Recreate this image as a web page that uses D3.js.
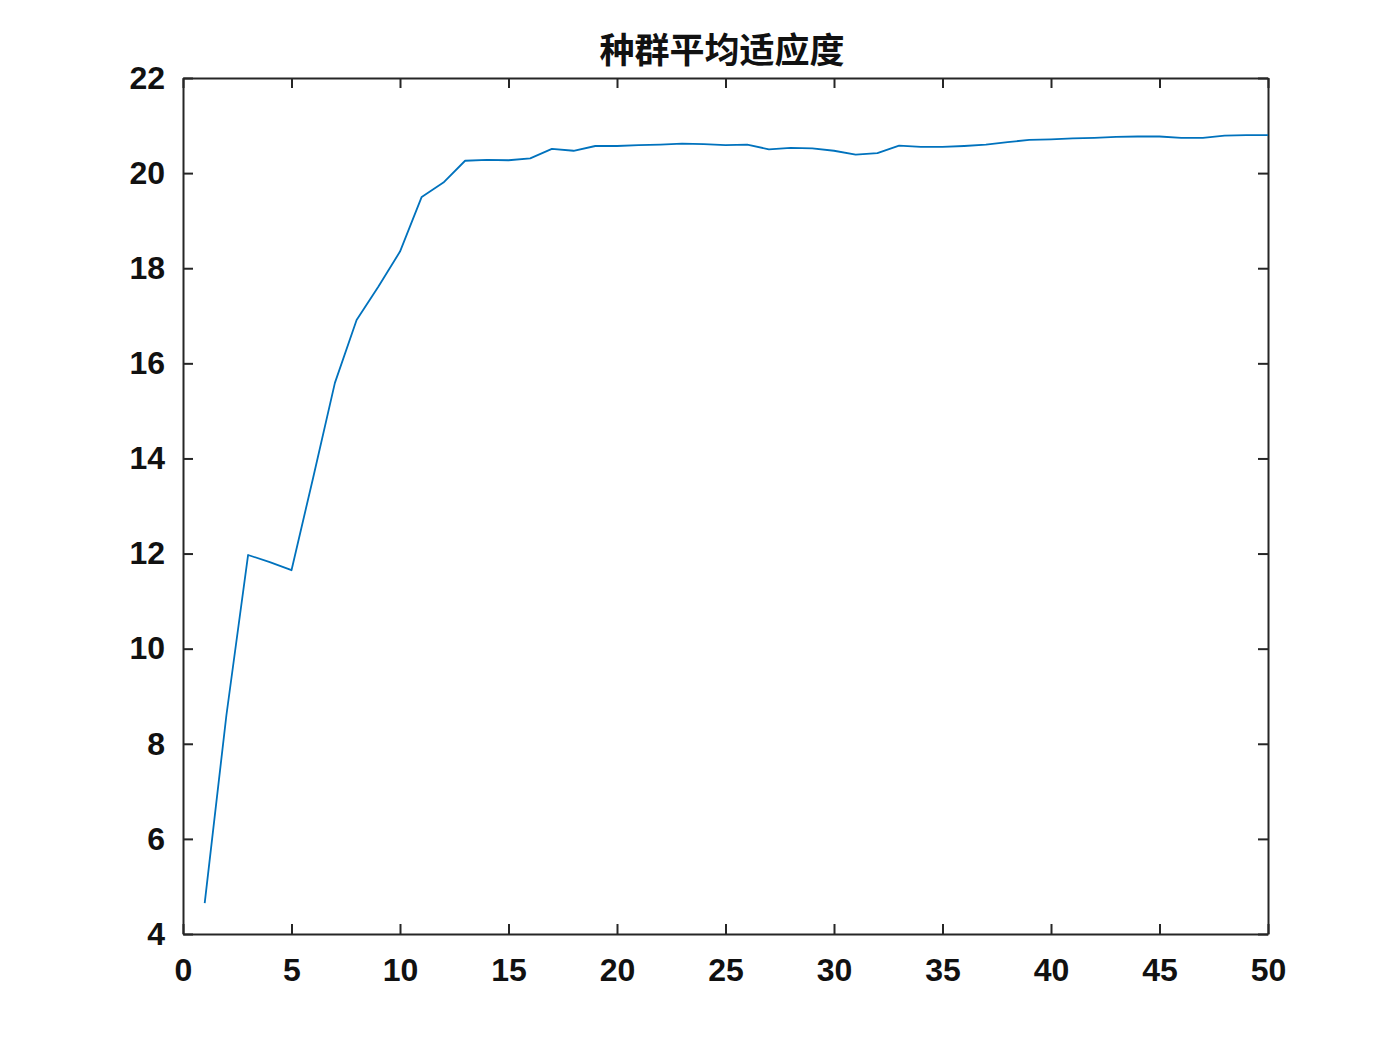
<!DOCTYPE html>
<html>
<head>
<meta charset="utf-8">
<script src="https://cdn.jsdelivr.net/npm/d3@7"></script>
<style>
  html, body { margin: 0; padding: 0; background: #ffffff; }
  svg { display: block; }
</style>
</head>
<body>
<script>
// ---- data ----
const title = "种群平均适应度";
const generations = d3.range(1, 51);
const avgFitness = [
  4.65, 8.6, 11.97, 11.82, 11.65, 13.6, 15.59, 16.91, 17.61, 18.35,
  19.5, 19.8, 20.26, 20.28, 20.27, 20.31, 20.51, 20.47, 20.57, 20.57,
  20.59, 20.6, 20.62, 20.61, 20.59, 20.6, 20.5, 20.53, 20.52, 20.47,
  20.39, 20.42, 20.58, 20.55, 20.55, 20.57, 20.6, 20.65, 20.7, 20.71,
  20.73, 20.74, 20.76, 20.77, 20.77, 20.74, 20.74, 20.79, 20.8, 20.8
];
const xTicks = [0, 5, 10, 15, 20, 25, 30, 35, 40, 45, 50];
const yTicks = [4, 6, 8, 10, 12, 14, 16, 18, 20, 22];

// ---- layout ----
const W = 1400, H = 1050;
const mLeft = 183, mRight = 1268, mTop = 78, mBottom = 934;

const svg = d3.select("body").append("svg")
  .attr("width", W).attr("height", H);

svg.append("rect").attr("width", W).attr("height", H).attr("fill", "#ffffff");

const x = d3.scaleLinear().domain([0, 50]).range([mLeft, mRight]);
const y = d3.scaleLinear().domain([4, 22]).range([mBottom, mTop]);

const axisColor = "#262626";
const tickLen = 10;
const labelFont = "'Liberation Sans', Arial, sans-serif";

// axes with inward ticks
const xAxisB = d3.axisBottom(x).tickValues(xTicks).tickSizeInner(-tickLen).tickSizeOuter(0).tickPadding(24).tickFormat(d3.format("d"));
const xAxisT = d3.axisTop(x).tickValues(xTicks).tickSizeInner(-tickLen).tickSizeOuter(0).tickFormat("");
const yAxisL = d3.axisLeft(y).tickValues(yTicks).tickSizeInner(-tickLen).tickSizeOuter(0).tickPadding(18).tickFormat(d3.format("d"));
const yAxisR = d3.axisRight(y).tickValues(yTicks).tickSizeInner(-tickLen).tickSizeOuter(0).tickFormat("");

function style(g) {
  g.select(".domain").attr("stroke", axisColor).attr("stroke-width", 2);
  g.selectAll(".tick line").attr("stroke", axisColor).attr("stroke-width", 2);
  g.selectAll(".tick text")
    .attr("fill", "#111111")
    .style("font-family", labelFont)
    .style("font-weight", "bold")
    .style("font-size", "32px");
}

svg.append("g").attr("transform", `translate(0,${mBottom})`).call(xAxisB).call(style);
svg.append("g").attr("transform", `translate(0,${mTop})`).call(xAxisT).call(style);
svg.append("g").attr("transform", `translate(${mLeft},0)`).call(yAxisL).call(style);
svg.append("g").attr("transform", `translate(${mRight},0)`).call(yAxisR).call(style);

// line
const pts = generations.map((g, i) => [g, avgFitness[i]]);
const line = d3.line().x(d => x(d[0])).y(d => y(d[1]));
svg.append("path")
  .datum(pts)
  .attr("d", line)
  .attr("fill", "none")
  .attr("stroke", "#0072BD")
  .attr("stroke-width", 1.8)
  .attr("stroke-linejoin", "round");

// title
svg.append("text")
  .attr("x", 722)
  .attr("y", 63)
  .attr("text-anchor", "middle")
  .style("font-family", "'Noto Sans CJK SC', sans-serif")
  .style("font-weight", "bold")
  .style("font-size", "35px")
  .attr("fill", "#111111")
  .text(title);
</script>
</body>
</html>
